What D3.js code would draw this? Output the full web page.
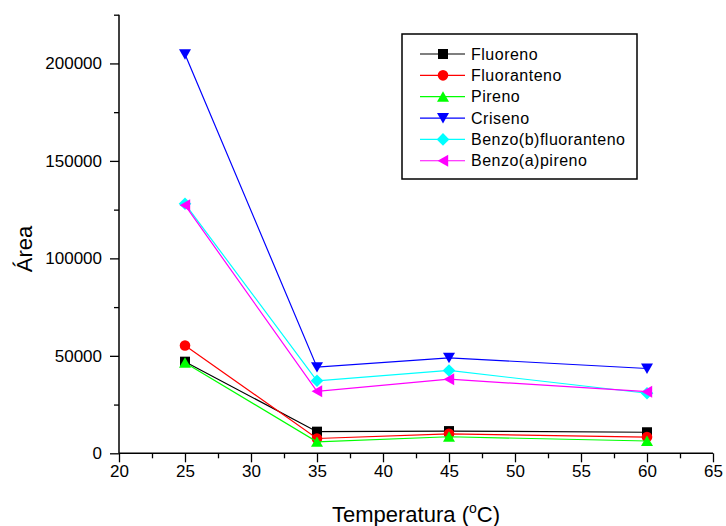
<!DOCTYPE html>
<html>
<head>
<meta charset="utf-8">
<script src="https://cdn.jsdelivr.net/npm/d3@7/dist/d3.min.js"></script>
<style>
  html, body { margin: 0; padding: 0; background: #fff; }
  svg { display: block; font-family: Arial, "Liberation Sans", sans-serif; }
</style>
</head>
<body>
<svg id="chart" width="726" height="526"></svg>
<script>
// ---------- data ----------
var temps = [25, 35, 45, 60];
var seriesNames = ["Fluoreno", "Fluoranteno", "Pireno", "Criseno", "Benzo(b)fluoranteno", "Benzo(a)pireno"];
var fluoreno = [47000, 11100, 11400, 10800];
var fluoranteno = [55300, 7600, 10000, 8300];
var pireno = [46500, 5900, 8500, 6300];
var criseno = [204700, 44200, 49000, 43500];
var benzoB = [128000, 37200, 42500, 30800];
var benzoA = [127300, 31800, 38000, 31600];
var xTicks = [20, 25, 30, 35, 40, 45, 50, 55, 60, 65];
var yTicks = [0, 50000, 100000, 150000, 200000];

var seriesValues = [fluoreno, fluoranteno, pireno, criseno, benzoB, benzoA];
var colors = ["#000000", "#ff0000", "#00ff00", "#0000ff", "#00ffff", "#ff00ff"];
var shapes = ["square", "circle", "up", "down", "diamond", "left"];

// ---------- layout ----------
var svg = d3.select("#chart");
var x = d3.scaleLinear().domain([20, 65]).range([119, 713]);
var y = d3.scaleLinear().domain([0, 225000]).range([453.3, 14.7]);

function markerPath(s) {
  switch (s) {
    case "square": return "M-5,-5H5V5H-5Z";
    case "up": return "M0,-5.4L6,5L-6,5Z";
    case "down": return "M0,5.4L6,-5L-6,-5Z";
    case "left": return "M-5.4,0L5.2,-6L5.2,6Z";
    case "diamond": return "M0,-6.3L6.3,0L0,6.3L-6.3,0Z";
  }
  return null;
}
function drawMarker(g, s, color, cx, cy) {
  if (s === "circle") {
    g.append("circle").attr("cx", cx).attr("cy", cy).attr("r", 5.3).attr("fill", color);
  } else {
    g.append("path").attr("d", markerPath(s)).attr("transform", "translate(" + cx + "," + cy + ")").attr("fill", color);
  }
}

// ---------- axes ----------
var xAxis = d3.axisBottom(x).tickValues(xTicks).tickSize(9).tickPadding(3).tickFormat(d3.format("d"));
var xMinor = d3.axisBottom(x).tickValues(d3.range(22.5, 65, 5)).tickSize(5).tickFormat("");
var yAxis = d3.axisLeft(y).tickValues(yTicks).tickSize(9).tickPadding(8).tickFormat(d3.format("d"));
var yMinor = d3.axisLeft(y).tickValues([25000, 75000, 125000, 175000, 225000]).tickSize(5).tickFormat("");

function styleAxis(g) {
  g.select(".domain").attr("stroke", "#000").attr("stroke-width", 1.5);
  g.selectAll(".tick line").attr("stroke", "#000").attr("stroke-width", 1.3);
  g.selectAll(".tick text").attr("fill", "#000").attr("font-size", 17).attr("font-family", "Arial, 'Liberation Sans', sans-serif");
}
svg.append("g").attr("transform", "translate(0,453.3)").call(xMinor).call(styleAxis).select(".domain").remove();
svg.append("g").attr("transform", "translate(119,0)").call(yMinor).call(styleAxis).select(".domain").remove();
svg.append("g").attr("transform", "translate(0,453.3)").call(xAxis).call(styleAxis)
  .selectAll(".domain").attr("d", "M119,0H713");
svg.append("g").attr("transform", "translate(119,0)").call(yAxis).call(styleAxis)
  .selectAll(".domain").attr("d", "M0,453.3V14.7");

// axis titles
var xt = svg.append("text").attr("x", 416).attr("y", 522).attr("text-anchor", "middle").attr("font-size", 22).attr("fill", "#000");
xt.append("tspan").text("Temperatura (");
xt.append("tspan").attr("dy", -9).attr("font-size", 14).text("o");
xt.append("tspan").attr("dy", 9).text("C)");
svg.append("text").attr("transform", "translate(32,249) rotate(-90)").attr("text-anchor", "middle")
  .attr("font-size", 22).attr("fill", "#000").text("Área");

// ---------- series ----------
var line = d3.line().x(function (d, i) { return x(temps[i]); }).y(function (d) { return y(d); });
seriesValues.forEach(function (vals, k) {
  var g = svg.append("g");
  g.append("path").datum(vals).attr("d", line).attr("fill", "none").attr("stroke", colors[k]).attr("stroke-width", 1.2);
  vals.forEach(function (v, i) { drawMarker(g, shapes[k], colors[k], x(temps[i]), y(v)); });
});

// ---------- legend ----------
var lg = svg.append("g");
lg.append("rect").attr("x", 402).attr("y", 34).attr("width", 235).attr("height", 145)
  .attr("fill", "#fff").attr("stroke", "#000").attr("stroke-width", 1.5);
seriesNames.forEach(function (name, k) {
  var ry = 54 + k * 21.35;
  lg.append("line").attr("x1", 420).attr("x2", 465).attr("y1", ry).attr("y2", ry).attr("stroke", colors[k]).attr("stroke-width", 1.2);
  drawMarker(lg, shapes[k], colors[k], 443, ry);
  lg.append("text").attr("x", 471).attr("y", ry + 5.6).attr("font-size", 16).attr("letter-spacing", 0.5)
    .attr("fill", "#000").text(name);
});
</script>
</body>
</html>
